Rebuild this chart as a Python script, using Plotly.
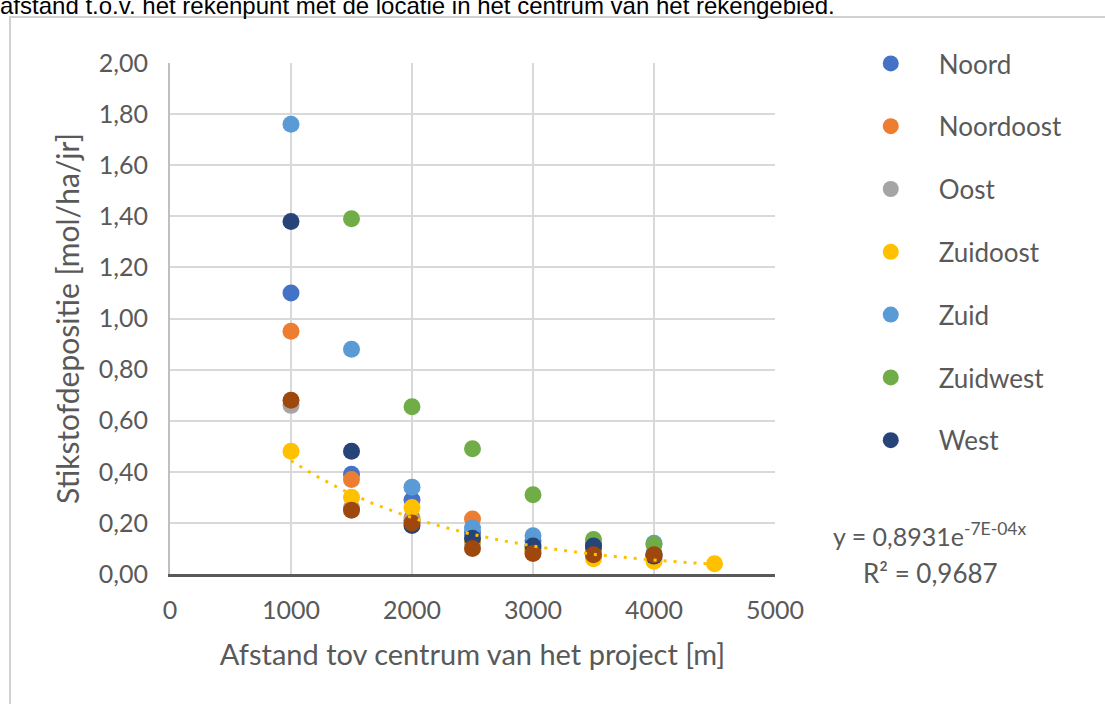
import numpy as np
import plotly.graph_objects as go

# ---- data ----
afstand = [1000, 1500, 2000, 2500, 3000, 3500, 4000]
afstand_zo = [1000, 1500, 2000, 2500, 3000, 3500, 4000, 4500]
afstand_zw = [1500, 2000, 2500, 3000, 3500, 4000]

noord = [1.10, 0.39, 0.29, 0.16, 0.13, 0.10, 0.08]
noordoost = [0.95, 0.37, 0.22, 0.215, 0.10, 0.08, 0.07]
oost = [0.66, 0.26, 0.21, 0.12, 0.09, 0.07, 0.06]
zuidoost = [0.48, 0.30, 0.26, 0.13, 0.09, 0.06, 0.05, 0.04]
zuid = [1.76, 0.88, 0.34, 0.18, 0.15, 0.12, 0.12]
zuidwest = [1.39, 0.655, 0.49, 0.31, 0.135, 0.115]
west = [1.38, 0.48, 0.19, 0.14, 0.11, 0.11, 0.07]
noordwest = [0.68, 0.25, 0.20, 0.10, 0.08, 0.075, 0.075]

trend_a = 0.8931
trend_b = -7e-4
trend_x = np.linspace(1000, 4500, 200)

series = [
    ("Noord", afstand, noord, "#4472C4", True),
    ("Noordoost", afstand, noordoost, "#ED7D31", True),
    ("Oost", afstand, oost, "#A5A5A5", True),
    ("Zuidoost", afstand_zo, zuidoost, "#FFC000", True),
    ("Zuid", afstand, zuid, "#5B9BD5", True),
    ("Zuidwest", afstand_zw, zuidwest, "#70AD47", True),
    ("West", afstand, west, "#264478", True),
    ("Noordwest", afstand, noordwest, "#9E480E", False),
]

FONT = "Lato, 'Open Sans', sans-serif"
GREY = "#595959"

fig = go.Figure()

for name, xs, ys, col, show in series:
    fig.add_trace(go.Scatter(
        x=xs, y=ys, mode="markers", name=name,
        marker=dict(size=17, color=col, line=dict(width=0)),
        showlegend=show, legendgroup=name,
    ))

# exponential trendline (Zuidoost)
fig.add_trace(go.Scatter(
    x=trend_x, y=trend_a * np.exp(trend_b * trend_x), mode="lines",
    line=dict(color="#FFC000", width=3, dash="3px,7px"),
    showlegend=False, hoverinfo="skip",
))

fig.update_layout(
    width=1105, height=704,
    margin=dict(l=170, r=330, t=63, b=130),
    paper_bgcolor="white", plot_bgcolor="white",
    separators=",.",
    font=dict(family=FONT, color=GREY, size=25),
    showlegend=True,
    legend=dict(
        x=1.112, xanchor="left", y=1.045, yanchor="top",
        font=dict(family=FONT, size=26, color=GREY),
        tracegroupgap=26, itemwidth=86, maxheight=620,
        bgcolor="rgba(0,0,0,0)",
    ),
    xaxis=dict(
        range=[0, 5000], dtick=1000, tickformat="d",
        showgrid=True, gridcolor="#d9d9d9", gridwidth=2,
        showline=True, linecolor="#595959", linewidth=3,
        zeroline=False, ticks="", automargin=False,
        ticklabelstandoff=12,
        tickfont=dict(size=25, color=GREY, family=FONT),
        title=dict(text="Afstand tov centrum van het project [m]",
                   font=dict(size=29, color=GREY, family=FONT), standoff=22),
    ),
    yaxis=dict(
        range=[0, 2.0], dtick=0.2, tickformat=".2f",
        showgrid=True, gridcolor="#d9d9d9", gridwidth=2,
        showline=True, linecolor="#bfbfbf", linewidth=2,
        zeroline=False, ticks="", automargin=False,
        ticklabelstandoff=15,
        tickfont=dict(size=25, color=GREY, family=FONT),
        title=dict(text="Stikstofdepositie [mol/ha/jr]",
                   font=dict(size=30, color=GREY, family=FONT), standoff=10),
    ),
)

# outer border of the chart frame
fig.add_shape(type="rect", xref="paper", yref="paper",
              x0=(10 - 170) / 605, x1=2.0, y0=-0.5, y1=(574 - 17) / 511,
              line=dict(color="#d0d0d0", width=2), fillcolor="rgba(0,0,0,0)",
              layer="below")

# trendline equation
fig.add_annotation(xref="paper", yref="paper",
                   x=(930 - 170) / 605, y=(574 - 534) / 511,
                   text="y = 0,8931e<sup>-7E-04x</sup>", showarrow=False,
                   font=dict(size=25, color=GREY, family=FONT),
                   xanchor="center", yanchor="middle")
fig.add_annotation(xref="paper", yref="paper",
                   x=(930 - 170) / 605, y=(574 - 573) / 511,
                   text="R² = 0,9687", showarrow=False,
                   font=dict(size=26, color=GREY, family=FONT),
                   xanchor="center", yanchor="middle")

# caption text cut off at the top
fig.add_annotation(xref="paper", yref="paper",
                   x=(-2 - 170) / 605, y=(574 - 21) / 511,
                   text="afstand t.o.v. het rekenpunt met de locatie in het centrum van het rekengebied.",
                   showarrow=False, xanchor="left", yanchor="bottom",
                   font=dict(size=24, color="#000000", family="Liberation Sans, Arial, sans-serif"))

fig.write_html("out.html", config={"displayModeBar": False},
               post_script="document.body.style.margin='0';")
